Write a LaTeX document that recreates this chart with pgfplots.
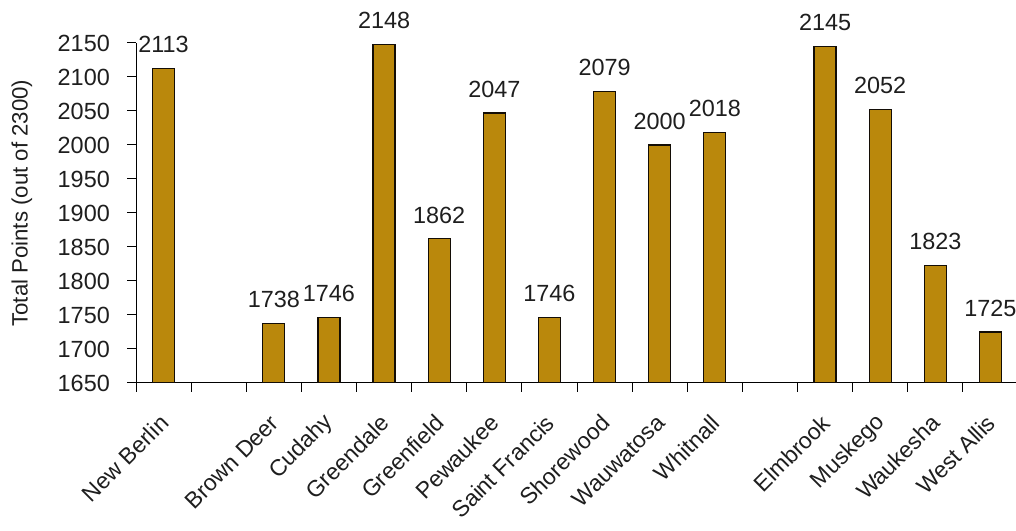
\documentclass[border=0pt]{standalone}
\usepackage{fontspec}
\setmainfont{Liberation Sans}
\usepackage{pgfplots}
\pgfplotsset{compat=1.18}
\definecolor{barfill}{RGB}{186,136,12}
\definecolor{txt}{RGB}{30,30,30}
\begin{document}
\begin{tikzpicture}[x=1bp,y=1bp]
\useasboundingbox (0,0) rectangle (1016,531);
\begin{axis}[
  at={(136bp,148bp)}, anchor=south west,
  scale only axis, width=882bp, height=340bp,
  xmin=-0.5, xmax=15.5, ymin=1650, ymax=2150,
  axis x line*=bottom, axis y line*=left,
  axis line style={black, line width=1pt, -},
  tick align=outside,
  major tick length=9bp,
  tick style={black, line width=1pt},
  /pgf/number format/.cd, 1000 sep={}, assume math mode=true, /pgfplots/.cd,
  xtick={-0.5,0.5,...,15.5}, xticklabels={},
  extra x ticks={0,2,3,4,5,6,7,8,9,10,12,13,14,15},
  extra x tick labels={New Berlin, Brown Deer, Cudahy, Greendale, Greenfield, Pewaukee, Saint Francis, Shorewood, Wauwatosa, Whitnall, Elmbrook, Muskego, Waukesha, West Allis},
  extra x tick style={major tick length=0pt, xticklabel style={font=\fontsize{23}{27}\selectfont, xshift=1bp, yshift=-36bp, rotate=45, anchor=east, inner sep=0pt}},
  ytick={1650,1700,...,2150},
  yticklabel style={inner sep=0pt, xshift=-17bp},
  tick label style={font=\fontsize{23.5}{27}\selectfont, text=txt},
  ylabel={Total Points (out of 2300)},
  ylabel style={font=\fontsize{22.3}{26}\selectfont, text=txt, at={(axis description cs:-0.1293,0.529)}, anchor=center},
  clip mode=individual,
  ybar, bar width=22bp,
  nodes near coords,
  every node near coord/.append style={font=\fontsize{23.5}{27}\selectfont, text=txt, anchor=south, inner sep=0pt, yshift=15bp},
]
\addplot[fill=barfill, draw=black!90!brown, line width=1.2bp] coordinates {
  (0,2113) (2,1738) (3,1746) (4,2148) (5,1862) (6,2047) (7,1746)
  (8,2079) (9,2000) (10,2018) (12,2145) (13,2052) (14,1823) (15,1725)
};
\end{axis}
\end{tikzpicture}
\end{document}
